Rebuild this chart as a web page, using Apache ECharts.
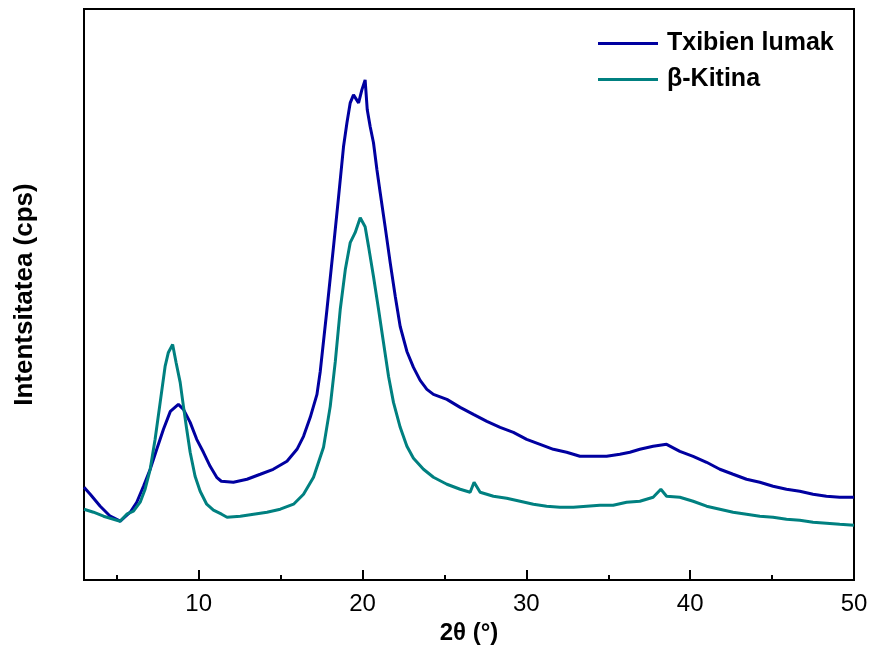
<!DOCTYPE html>
<html>
<head>
<meta charset="utf-8">
<script src="https://cdn.jsdelivr.net/npm/echarts@6/dist/echarts.min.js"></script>
<style>
html,body{margin:0;padding:0;background:#fff;}
#chart{width:871px;height:650px;}
</style>
</head>
<body>
<div id="chart"></div>
<script>
// 2θ (°) and intensity (arbitrary cps units)
var blueX = [3.0,3.38,3.99,4.6,5.21,5.82,6.22,6.63,7.04,7.44,7.85,8.27,8.76,9.07,9.48,9.88,10.29,10.7,11.1,11.38,12.12,12.95,13.76,14.55,15.39,16.0,16.4,16.81,17.22,17.42,17.83,18.23,18.54,18.84,19.05,19.25,19.45,19.76,19.96,20.16,20.29,20.47,20.67,20.88,21.08,21.38,21.69,22.0,22.3,22.71,23.11,23.52,23.93,24.33,25.15,25.96,26.77,27.59,28.4,29.21,30.02,30.84,31.65,32.46,33.27,34.09,34.9,35.71,36.32,36.93,37.74,38.56,39.37,40.18,41.0,41.81,42.62,43.44,44.25,45.06,45.88,46.69,47.5,48.32,49.13,50.0];
var blueY = [93,86,74,64,59,68,78,94,111,131,151,169,176,171,158,141,128,114,103,99,98,101,106,111,119,131,144,163,186,209,271,334,384,434,458,478,486,478,491,501,471,454,438,411,388,354,318,284,254,229,213,200,191,186,181,173,166,159,153,148,141,136,131,128,124,124,124,126,128,131,134,136,129,124,118,111,106,101,98,94,91,89,86,84,83,83];

var tealX = [3.0,3.58,4.19,4.8,5.21,5.61,6.02,6.43,6.73,7.04,7.34,7.65,7.95,8.15,8.41,8.62,8.87,9.07,9.27,9.48,9.78,10.09,10.49,10.9,11.4,11.73,12.54,13.35,14.17,14.98,15.79,16.4,17.01,17.62,18.03,18.34,18.64,18.95,19.25,19.55,19.86,20.16,20.37,20.67,20.98,21.28,21.59,21.89,22.3,22.71,23.11,23.72,24.33,25.15,25.96,26.57,26.81,27.18,27.99,28.8,29.62,30.43,31.24,32.05,32.87,33.68,34.49,35.3,36.12,36.93,37.74,38.21,38.56,39.37,40.18,41.0,41.81,42.62,43.44,44.25,45.06,45.88,46.69,47.5,48.32,49.13,50.0];
var tealY = [71,68,64,61,59,66,69,78,91,111,141,178,214,228,236,218,198,174,151,128,104,89,76,70,66,63,64,66,68,71,76,86,103,133,174,219,271,311,338,348,363,354,334,304,271,238,204,178,153,134,122,111,103,96,91,88,98,88,84,82,79,76,74,73,73,74,75,75,78,79,83,91,84,83,79,74,71,68,66,64,63,61,60,58,57,56,55];

var seriesNames = ['Txibien lumak', 'β-Kitina'];
var majorTicks = [10, 20, 30, 40, 50];
var minorTicks = [5, 15, 25, 35, 45];

function pairs(xs, ys){ return xs.map(function(x,i){ return [x, ys[i]]; }); }

var chart = echarts.init(document.getElementById('chart'), null, {renderer:'canvas'});
var font = '"Liberation Sans", Arial, sans-serif';
chart.setOption({
  animation: false,
  backgroundColor: '#fff',
  grid: {left: 84, right: 17, top: 9, bottom: 69, show: true, borderColor: '#000', borderWidth: 2, backgroundColor: 'transparent'},
  legend: {
    data: seriesNames,
    orient: 'vertical',
    left: 598, top: 31, padding: 0,
    icon: 'rect',
    itemWidth: 60, itemHeight: 3, itemGap: 11,
    textStyle: {fontFamily: font, fontSize: 25, fontWeight: 'bold', color: '#000', padding: [0,0,0,4]}
  },
  xAxis: [{
    type: 'value', min: 3, max: 50,
    name: '2θ (°)', nameLocation: 'middle', nameGap: 39,
    nameTextStyle: {fontFamily: font, fontSize: 24, fontWeight: 'bold', color: '#000'},
    axisLine: {show: true, lineStyle: {color: '#000', width: 2}},
    axisTick: {show: true, inside: true, length: 10, customValues: majorTicks, lineStyle: {color: '#000', width: 2}},
    axisLabel: {customValues: majorTicks, fontFamily: font, fontSize: 24, color: '#000', margin: 12},
    splitLine: {show: false}
  }, {
    type: 'value', min: 3, max: 50, position: 'bottom',
    axisLine: {show: false},
    axisTick: {show: true, inside: true, length: 5, customValues: minorTicks, lineStyle: {color: '#000', width: 2}},
    axisLabel: {show: false},
    splitLine: {show: false}
  }],
  yAxis: {
    type: 'value', min: 0, max: 572,
    name: 'Intentsitatea (cps)', nameLocation: 'middle', nameGap: 46,
    nameTextStyle: {fontFamily: font, fontSize: 26, fontWeight: 'bold', color: '#000', padding: [0,0,0,0]},
    axisLine: {show: true, lineStyle: {color: '#000', width: 2}},
    axisTick: {show: false}, axisLabel: {show: false}, splitLine: {show: false}
  },
  series: [{
    name: seriesNames[0], type: 'line', data: pairs(blueX, blueY), xAxisIndex: 0,
    showSymbol: false, symbol: 'none', z: 2,
    lineStyle: {color: '#0000A0', width: 3}, itemStyle: {color: '#0000A0'}
  }, {
    name: seriesNames[1], type: 'line', data: pairs(tealX, tealY), xAxisIndex: 0,
    showSymbol: false, symbol: 'none', z: 3,
    lineStyle: {color: '#008080', width: 3}, itemStyle: {color: '#008080'}
  }]
});
</script>
</body>
</html>
